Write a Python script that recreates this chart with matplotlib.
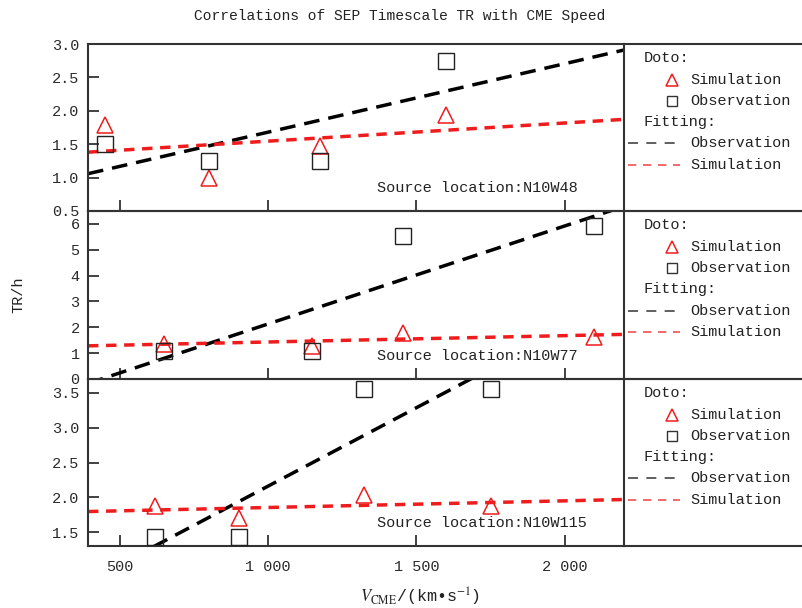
import matplotlib.pyplot as plt
import numpy as np

plt.rcParams['font.family'] = ['Liberation Mono', 'DejaVu Sans']
plt.rcParams['mathtext.fontset'] = 'stix'

# data
locations = ['N10W48', 'N10W77', 'N10W115']
obs_x = [[450, 800, 1176, 1600],
         [649, 1149, 1453, 2098],
         [618, 900, 1324, 1750]]
obs_y = [[1.50, 1.25, 1.25, 2.75],
         [1.10, 1.10, 5.53, 5.91],
         [1.43, 1.43, 3.56, 3.56]]
sim_x = obs_x
sim_y = [[1.78, 1.00, 1.48, 1.93],
         [1.36, 1.28, 1.79, 1.63],
         [1.87, 1.70, 2.03, 1.87]]
ylims = [(0.5, 3.0), (0, 6.5), (1.3, 3.7)]
yticks = [[0.5, 1.0, 1.5, 2.0, 2.5, 3.0],
          [0, 1, 2, 3, 4, 5, 6],
          [1.5, 2.0, 2.5, 3.0, 3.5]]
ytick_fmt = ['%.1f', '%d', '%.1f']
xticks = [500, 1000, 1500, 2000]
xtick_labels = ['500', '1 000', '1 500', '2 000']
xlim = (392, 2200)

fig = plt.figure(figsize=(8.02, 6.08), dpi=100)
W, H = 802, 608
left, right = 88, 624
tops = [44, 211, 379]
bots = [211, 379, 546]
spine_c = '#333333'
red = '#ee1c1c'

for i in range(3):
    b = (H - bots[i]) / H
    h = (bots[i] - tops[i]) / H
    lax = fig.add_axes([right / W, b, 1 - right / W, h])
    ax = fig.add_axes([left / W, b, (right - left) / W, h])
    lax.patch.set_alpha(0)
    ax.patch.set_alpha(0)

    xx = np.array(xlim, dtype=float)
    po = np.polyfit(obs_x[i], obs_y[i], 1)
    ps = np.polyfit(sim_x[i], sim_y[i], 1)
    ax.plot(xx, np.polyval(po, xx), color='black', lw=2.5, dashes=(4.5, 2.6), zorder=2)
    ax.plot(xx, np.polyval(ps, xx), color=red, lw=2.5, dashes=(3, 2.2), zorder=2)
    ax.plot(sim_x[i], sim_y[i], linestyle='none', marker='^', ms=12, mfc='none',
            mec=red, mew=1.1, zorder=3)
    ax.plot(obs_x[i], obs_y[i], linestyle='none', marker='s', ms=11, mfc='none',
            mec='#222222', mew=1.0, zorder=3)

    ax.set_xlim(xlim)
    ax.set_ylim(ylims[i])
    ax.set_xticks(xticks)
    ax.set_yticks(yticks[i])
    ax.set_yticklabels([ytick_fmt[i] % v for v in yticks[i]])
    if i == 2:
        ax.set_xticklabels(xtick_labels)
    else:
        ax.set_xticklabels([])
    ax.tick_params(direction='in', length=8, width=1.3, color=spine_c,
                   labelsize=11, labelcolor='#2a2a2a', pad=6)
    ax.tick_params(axis='x', pad=10)
    for s in ax.spines.values():
        s.set_color(spine_c)
        s.set_linewidth(1.5)
    ax.text(0.539, 0.135, 'Source location:' + locations[i], transform=ax.transAxes,
            fontsize=11, color='#222222', ha='left', va='center')

    # legend panel on the right
    lax.set_xlim(0, 1)
    lax.set_ylim(0, 1)
    lax.set_xticks([])
    lax.set_yticks([])
    for k in ['left', 'right']:
        lax.spines[k].set_visible(False)
    for k in ['top', 'bottom']:
        lax.spines[k].set_color(spine_c)
        lax.spines[k].set_linewidth(1.5)
    fs = 11
    tc = '#222222'
    lax.text(0.112, 0.916, 'Doto:', fontsize=fs, color=tc, va='center')
    lax.plot([0.27], [0.784], marker='^', ms=8, mfc='none', mec=red, mew=1.1)
    lax.text(0.371, 0.784, 'Simulation', fontsize=fs, color=tc, va='center')
    lax.plot([0.27], [0.659], marker='s', ms=7.5, mfc='none', mec='#333333', mew=1.0)
    lax.text(0.371, 0.659, 'Observation', fontsize=fs, color=tc, va='center')
    lax.text(0.112, 0.533, 'Fitting:', fontsize=fs, color=tc, va='center')
    lax.plot([0.022, 0.315], [0.407, 0.407], color='#444444', lw=1.2, dashes=(6, 5))
    lax.text(0.371, 0.407, 'Observation', fontsize=fs, color=tc, va='center')
    lax.plot([0.022, 0.315], [0.278, 0.278], color='#f05050', lw=1.2, dashes=(5, 4))
    lax.text(0.371, 0.278, 'Simulation', fontsize=fs, color=tc, va='center')

fig.text(400 / W, 1 - 16 / H, 'Correlations of SEP Timescale TR with CME Speed',
         fontsize=10.5, color='#222222', ha='center', va='center')
fig.text(18 / W, 1 - 295 / H, 'TR/h', rotation=90, fontsize=11, color='#222222',
         ha='center', va='center')
fig.text(420 / W, 1 - 597 / H, r'$V_{\rm CME}$/(km•s$^{-1}$)', fontsize=12,
         color='#222222', ha='center', va='center')

fig.savefig('out.png', dpi=100)
